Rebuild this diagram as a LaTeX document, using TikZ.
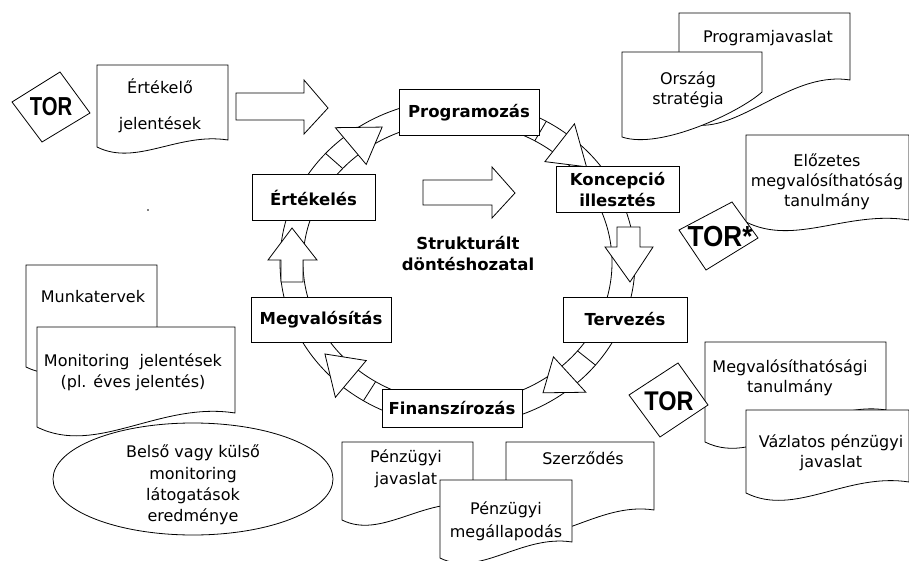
\documentclass[tikz,border=0pt]{standalone}
\usepackage{fontspec}
\usepackage{graphicx}
\setmainfont{DejaVu Sans}
\newfontfamily\torfamily{Liberation Sans}
\begin{document}
\begin{tikzpicture}[x=1pt,y=-1pt,
  thin line/.style={draw=black,line width=0.8pt,line join=miter},
  stage/.style={draw=black,line width=1pt,fill=white,inner sep=0pt,align=center,
    font=\fontsize{16.5}{21}\selectfont\bfseries},
  doctext/.style={inner sep=0pt,align=center,font=\fontsize{16}{20}\selectfont},
  tortext/.style={inner sep=0pt,font=\torfamily\bfseries}]
\useasboundingbox[fill=white] (0,0) rectangle (909,561);

% document sheet: left x, top y, right x, bottom-left y, bottom-right y
\newcommand\docsheet[5]{%
  \draw[thin line,fill=white] (#1,#2) -- (#3,#2) -- (#3,#5)
    .. controls ({#1+0.62*(#3-#1)},{#5-0.06*(#3-#1)}) and ({#1+0.3*(#3-#1)},{#4+0.15*(#3-#1)}) .. (#1,#4) -- cycle;}

% arrow riding on the ring: tail angle, head back angle, tip angle
\newcommand\ringarrow[3]{%
  \draw[thin line] ({457.5+177.5*cos(#1)},{262.5-163*sin(#1)}) -- ({457.5+154.5*cos(#1)},{262.5-140.5*sin(#1)});
  \draw[thin line,fill=white] ({457.5+190*cos(#2)},{262.5-176*sin(#2)})
    -- ({457.5+166*cos(#3)},{262.5-152*sin(#3)})
    -- ({457.5+142*cos(#2)},{262.5-128*sin(#2)}) -- cycle;}

% the cycle ring
\draw[thin line] (457.5,262.5) ellipse [x radius=177.5pt, y radius=163pt];
\draw[thin line] (457.5,262.5) ellipse [x radius=154.5pt, y radius=140.5pt];

\ringarrow{138}{130}{117}
\ringarrow{60}{52}{39}
\ringarrow{-39}{-47.5}{-59}
\ringarrow{-122}{-130}{-143}

% straight arrows on the ring
\draw[thin line,fill=white] (617,227) -- (640,227) -- (640,247) -- (653,247) -- (630,282)
  -- (605,247) -- (617,247) -- cycle;
\draw[thin line,fill=white] (281,282) -- (303,282) -- (303,260) -- (317,260) -- (292,228)
  -- (268,260) -- (281,260) -- cycle;

% stages of the cycle
\node[stage,minimum width=140pt,minimum height=46pt] (prog) at (469,113) {Programozás};
\node[stage,minimum width=123pt,minimum height=46pt] (konc) at (617.5,190) {Koncepció\\illesztés};
\node[stage,minimum width=124pt,minimum height=45pt] (terv) at (625,319.5) {Tervezés};
\node[stage,minimum width=140pt,minimum height=38pt] (fin) at (452,408) {Finanszírozás};
\node[stage,minimum width=140pt,minimum height=45pt] (megv) at (321,319.5) {Megvalósítás};
\node[stage,minimum width=123pt,minimum height=46pt] (ert) at (313.5,198) {Értékelés};

% centre
\draw[thin line,fill=white] (423,180) -- (492,180) -- (492,167) -- (515,193) -- (492,218)
  -- (492,205) -- (423,205) -- cycle;
\node[inner sep=0pt,align=center,font=\fontsize{16.5}{21}\selectfont\bfseries] (strukt) at (468,253.5)
  {Strukturált\\döntéshozatal};
\fill (148,210) circle (0.8pt);

% evaluation reports
\draw[thin line] (12,102) -- (60,72) -- (90,113) -- (42,142) -- cycle;
\node[tortext] (tor1) at (51,107) {\fontsize{26}{26}\selectfont\scalebox{0.78}[1]{TOR}};
\docsheet{97}{65}{228}{147}{140}
\node[doctext] (ertjel) at (160,106) {Értékelő\\[16pt]jelentések};
\draw[thin line,fill=white] (236,93) -- (304,93) -- (304,80) -- (328,108) -- (304,134)
  -- (304,120) -- (236,120) -- cycle;

% programming documents
\docsheet{679}{13}{850}{120}{80}
\node[doctext] (progjav) at (768,38) {Programjavaslat};
\draw[thin line,fill=white] (622,52) -- (762,52) -- (762,92)
  .. controls (740,112) and (660,150) .. (622,137) -- cycle;
\node[doctext] (orszag) at (688,90) {Ország\\stratégia};

% pre-feasibility
\docsheet{746}{135}{909}{222}{220}
\node[doctext] (elozetes) at (827,182) {Előzetes\\megvalósíthatóság\\tanulmány};
\draw[thin line,fill=white] (679,230) -- (732,202) -- (758,238) -- (706,270) -- cycle;
\node[tortext] (tor2) at (720,237) {\fontsize{29}{29}\selectfont\scalebox{0.9}[1]{TOR*}};

% feasibility
\docsheet{705}{342}{886}{442}{410}
\node[doctext] (megvtan) at (790,378) {Megvalósíthatósági\\tanulmány};
\docsheet{746}{410}{909}{493}{482}
\node[doctext] (vazlat) at (831,453) {Vázlatos pénzügyi\\javaslat};
\draw[thin line,fill=white] (629,395) -- (678,363) -- (708,405) -- (660,437) -- cycle;
\node[tortext] (tor3) at (669,401) {\fontsize{27}{27}\selectfont\scalebox{0.87}[1]{TOR}};

% financing documents
\docsheet{342}{442}{473}{520}{505}
\node[doctext] (penzjav) at (406,469) {Pénzügyi\\[2pt]javaslat};
\docsheet{506}{442}{654}{530}{510}
\node[doctext] (szerz) at (583,458) {Szerződés};
\docsheet{440}{480}{572}{558}{542}
\node[doctext] (penzmeg) at (506,521.5) {Pénzügyi\\[3pt]megállapodás};

% implementation documents
\docsheet{26}{265}{157}{367}{360}
\node[doctext] (munka) at (93,297) {Munkatervek};
\docsheet{37}{327}{235}{427}{413}
\node[doctext] (monit) at (133,372.5) {Monitoring~ jelentések\\[1pt](pl. éves jelentés)};
\draw[thin line] (193,479) ellipse [x radius=140pt, y radius=56pt];
\node[doctext] (latog) at (193,485) {Belső vagy külső\\[1.3pt]monitoring\\[1.3pt]látogatások\\[1.3pt]eredménye};

\end{tikzpicture}
\end{document}
